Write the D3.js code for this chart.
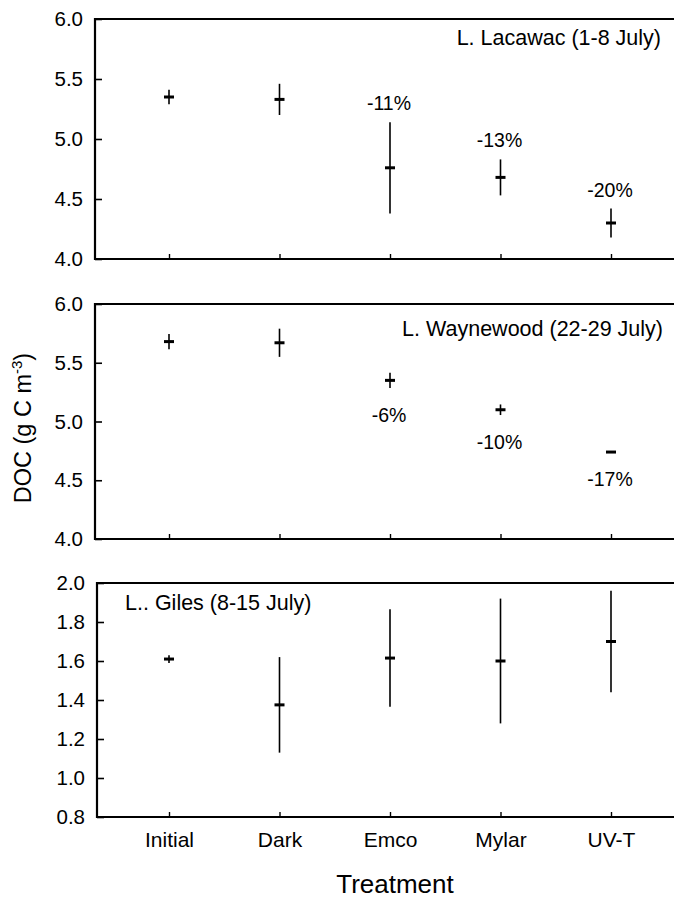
<!DOCTYPE html>
<html>
<head>
<meta charset="utf-8">
<script src="https://cdn.jsdelivr.net/npm/d3@7"></script>
<style>
  html, body { margin: 0; padding: 0; background: #fff; }
  svg { display: block; font-family: "Liberation Sans", Arial, Helvetica, sans-serif; }
</style>
</head>
<body>
<svg id="chart" width="674" height="901"></svg>
<script>
// Treatments on the shared x axis
const categories = ["Initial", "Dark", "Emco", "Mylar", "UV-T"];

// L. Lacawac (1-8 July): DOC mean and error
const lacawacMean = [5.35, 5.33, 4.76, 4.68, 4.30];
const lacawacErr = [0.06, 0.13, 0.38, 0.15, 0.12];
const lacawacChange = ["", "", "-11%", "-13%", "-20%"];

// L. Waynewood (22-29 July)
const waynewoodMean = [5.68, 5.67, 5.35, 5.10, 4.74];
const waynewoodErr = [0.065, 0.12, 0.065, 0.045, 0.0];
const waynewoodChange = ["", "", "-6%", "-10%", "-17%"];

// L. Giles (8-15 July)
const gilesMean = [1.61, 1.375, 1.615, 1.60, 1.70];
const gilesErr = [0.02, 0.245, 0.25, 0.32, 0.26];
const gilesChange = ["", "", "", "", ""];

// Axis ticks
const ticksUpper = [4.0, 4.5, 5.0, 5.5, 6.0];
const ticksLower = [0.8, 1.0, 1.2, 1.4, 1.6, 1.8, 2.0];

const svg = d3.select("#chart");

const panels = [
  { title: "L. Lacawac (1-8 July)", mean: lacawacMean, err: lacawacErr, change: lacawacChange,
    domain: [4.0, 6.0], ticks: ticksUpper, top: 19, bottom: 259, left: 95,
    titleX: 661, titleAnchor: "end", titleY: 45, labelSide: "above", showX: false },
  { title: "L. Waynewood (22-29 July)", mean: waynewoodMean, err: waynewoodErr, change: waynewoodChange,
    domain: [4.0, 6.0], ticks: ticksUpper, top: 304, bottom: 539, left: 95,
    titleX: 663, titleAnchor: "end", titleY: 336, labelSide: "below", showX: false },
  { title: "L.. Giles (8-15 July)", mean: gilesMean, err: gilesErr, change: gilesChange,
    domain: [0.8, 2.0], ticks: ticksLower, top: 583, bottom: 817, left: 97,
    titleX: 125, titleAnchor: "start", titleY: 610, labelSide: "above", showX: true }
];

const plotRight = 700;
const x = d3.scalePoint().domain(categories).range([169, 611]);

panels.forEach(p => {
  const y = d3.scaleLinear().domain(p.domain).range([p.bottom, p.top]);
  const g = svg.append("g");

  // y axis: ticks pointing into the plot
  const yAxis = g.append("g")
    .attr("transform", `translate(${p.left},0)`)
    .call(d3.axisLeft(y).tickValues(p.ticks).tickFormat(d3.format(".1f"))
      .tickSizeInner(-7).tickSizeOuter(0).tickPadding(12));
  yAxis.select(".domain").remove();
  yAxis.selectAll(".tick line").attr("stroke", "#000").attr("stroke-width", 1.6);
  yAxis.selectAll(".tick text").attr("font-size", 20.5).attr("fill", "#000");

  // x axis: ticks pointing up into the plot
  const xAxis = g.append("g")
    .attr("transform", `translate(0,${p.bottom})`)
    .call(d3.axisBottom(x).tickSizeInner(-5).tickSizeOuter(0).tickPadding(15)
      .tickFormat(p.showX ? d => d : () => ""));
  xAxis.select(".domain").remove();
  xAxis.selectAll(".tick line").attr("stroke", "#000").attr("stroke-width", 1.4);
  xAxis.selectAll(".tick text").attr("font-size", 21).attr("fill", "#000");

  // frame: left, top and bottom edges
  g.append("path")
    .attr("d", `M${plotRight},${p.top}H${p.left}V${p.bottom}H${plotRight}`)
    .attr("fill", "none").attr("stroke", "#000").attr("stroke-width", 2.2);

  // lake label
  g.append("text")
    .attr("x", p.titleX).attr("y", p.titleY)
    .attr("text-anchor", p.titleAnchor)
    .attr("font-size", 21.5).attr("fill", "#000")
    .text(p.title);

  const pts = categories.map((c, i) => ({ c, m: p.mean[i], e: p.err[i], lab: p.change[i] }));

  // error bars
  g.selectAll(".err").data(pts).enter().append("line")
    .attr("x1", d => x(d.c)).attr("x2", d => x(d.c))
    .attr("y1", d => y(d.m + d.e)).attr("y2", d => y(d.m - d.e))
    .attr("stroke", "#000").attr("stroke-width", 1.6);

  // mean markers
  g.selectAll(".mean").data(pts).enter().append("line")
    .attr("x1", d => x(d.c) - 5).attr("x2", d => x(d.c) + 5)
    .attr("y1", d => y(d.m)).attr("y2", d => y(d.m))
    .attr("stroke", "#000").attr("stroke-width", 3);

  // percent change relative to the initial value
  g.selectAll(".chg").data(pts.filter(d => d.lab)).enter().append("text")
    .attr("x", d => x(d.c) - 1)
    .attr("y", d => p.labelSide === "above" ? y(d.m + d.e) - 12 : y(d.m - d.e) + 34)
    .attr("text-anchor", "middle")
    .attr("font-size", 19.5).attr("fill", "#000")
    .text(d => d.lab);
});

// y axis title
const yl = svg.append("text")
  .attr("transform", "translate(31,428) rotate(-90)")
  .attr("text-anchor", "middle")
  .attr("font-size", 23.5).attr("fill", "#000");
yl.append("tspan").text("DOC (g C m");
yl.append("tspan").attr("font-size", 15).attr("dy", -9).text("-3");
yl.append("tspan").attr("dy", 9).text(")");

// x axis title
svg.append("text")
  .attr("x", 395).attr("y", 893)
  .attr("text-anchor", "middle")
  .attr("font-size", 26).attr("fill", "#000")
  .text("Treatment");
</script>
</body>
</html>
